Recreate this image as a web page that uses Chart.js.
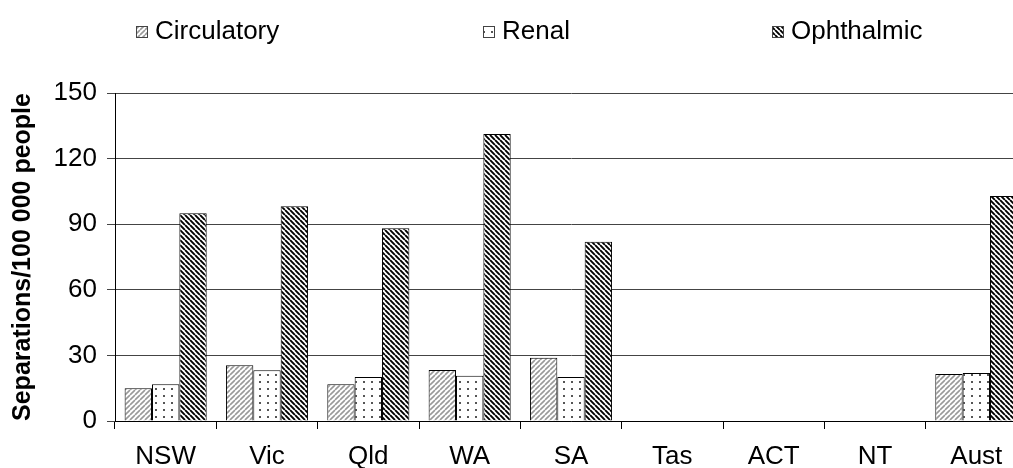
<!DOCTYPE html>
<html>
<head>
<meta charset="utf-8">
<script src="https://cdn.jsdelivr.net/npm/chart.js@4"></script>
<style>
  html, body { margin: 0; padding: 0; background: #fff; overflow: hidden; }
  #wrap { position: relative; width: 1027px; height: 468px; }
</style>
</head>
<body>
<div id="wrap"><canvas id="myChart"></canvas></div>
<script>
'use strict';

const states = ['NSW', 'Vic', 'Qld', 'WA', 'SA', 'Tas', 'ACT', 'NT', 'Aust'];
const circulatory = [15, 25.5, 16.8, 23.3, 28.9, null, null, null, 21.5];
const renal = [16.8, 23.2, 20.1, 20.7, 20.1, null, null, null, 21.9];
const ophthalmic = [95, 98.2, 88.2, 131.2, 82, null, null, null, 102.9];
const yTicks = [0, 30, 60, 90, 120, 150];

const FONT = '"Liberation Sans", Arial, sans-serif';

// little tiles for the hatch fills
function stripes(size, color, width, dir) {
  const c = document.createElement('canvas');
  c.width = c.height = size;
  const g = c.getContext('2d');
  g.fillStyle = '#fff';
  g.fillRect(0, 0, size, size);
  g.strokeStyle = color;
  g.lineWidth = width;
  g.beginPath();
  for (let k = -1; k <= 1; k++) {
    if (dir > 0) {
      g.moveTo(k * size, size);
      g.lineTo(k * size + size, 0);
    } else {
      g.moveTo(k * size, 0);
      g.lineTo(k * size + size, size);
    }
  }
  g.stroke();
  return g.createPattern(c, 'repeat');
}

function dots() {
  const c = document.createElement('canvas');
  c.width = 8;
  c.height = 7;
  const g = c.getContext('2d');
  g.fillStyle = '#fff';
  g.fillRect(0, 0, 8, 7);
  g.fillStyle = '#555';
  g.fillRect(3, 3, 2, 2);
  return g.createPattern(c, 'repeat');
}

const legendPlugin = {
  id: 'fixedLegend',
  afterDraw(chart) {
    const ctx = chart.ctx;
    const xs = [136, 483, 772];
    ctx.save();
    ctx.font = '26px ' + FONT;
    ctx.textBaseline = 'middle';
    chart.data.datasets.forEach((ds, i) => {
      ctx.fillStyle = ds.backgroundColor;
      ctx.fillRect(xs[i], 26, 11, 11);
      ctx.strokeStyle = '#444';
      ctx.lineWidth = 1;
      ctx.strokeRect(xs[i] + 0.5, 26.5, 11, 11);
      ctx.fillStyle = '#000';
      ctx.fillText(ds.label, xs[i] + 19, 32);
    });
    ctx.restore();
  }
};

const ctx = document.getElementById('myChart');

new Chart(ctx, {
  type: 'bar',
  data: {
    labels: states,
    datasets: [
      { label: 'Circulatory', data: circulatory, backgroundColor: stripes(5, '#999', 1.6, 1) },
      { label: 'Renal', data: renal, backgroundColor: dots() },
      { label: 'Ophthalmic', data: ophthalmic, backgroundColor: stripes(5, '#000', 1.9, -1) }
    ]
  },
  options: {
    responsive: true,
    maintainAspectRatio: false,
    animation: false,
    layout: { padding: { top: 93, left: 0, right: 0, bottom: 0 } },
    datasets: {
      bar: {
        borderColor: '#000',
        borderWidth: 1,
        categoryPercentage: 0.81,
        barPercentage: 1
      }
    },
    scales: {
      x: {
        afterFit: s => { s.height = 47; },
        grid: {
          drawOnChartArea: false,
          color: '#000',
          tickLength: 8
        },
        border: { color: '#000', width: 1 },
        ticks: {
          color: '#000',
          padding: 12,
          maxRotation: 0,
          font: { family: FONT, size: 26 }
        }
      },
      y: {
        min: 0,
        max: 150,
        afterFit: s => { s.width = 115; },
        afterBuildTicks: s => { s.ticks = yTicks.map(v => ({ value: v })); },
        grid: {
          color: '#444',
          tickLength: 8
        },
        border: { color: '#000', width: 1 },
        ticks: {
          color: '#000',
          padding: 10,
          font: { family: FONT, size: 26 }
        },
        title: {
          display: true,
          text: 'Separations/100 000 people',
          color: '#000',
          padding: { top: 8, bottom: 0 },
          font: { family: FONT, size: 25, weight: 'bold' }
        }
      }
    },
    plugins: {
      legend: { display: false },
      tooltip: { enabled: false }
    }
  },
  plugins: [legendPlugin]
});
</script>
</body>
</html>
